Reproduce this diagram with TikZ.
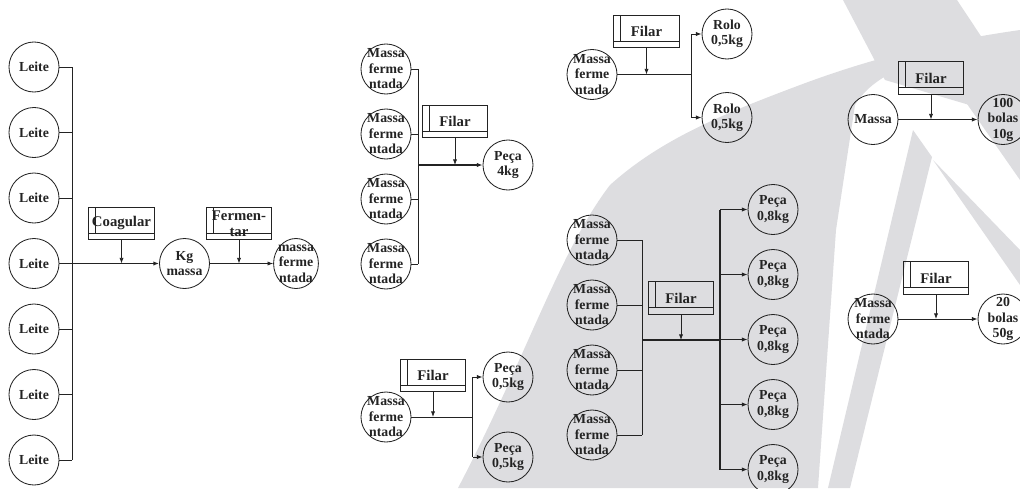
\documentclass[tikz,border=0pt]{standalone}
\usepackage{fontspec}
\setmainfont{Liberation Serif}
\usepackage{tikz}
\usetikzlibrary{arrows.meta, positioning, calc, shapes.geometric}
\definecolor{mydark}{RGB}{35,35,35}
\definecolor{mygray}{RGB}{221,221,224}
\tikzset{
  circ/.style={circle, draw=mydark, line width=0.6pt, minimum size=1.25cm,
    inner sep=-8pt, align=center, font=\fontsize{9.8}{11}\selectfont\bfseries, text=mydark},
  taskbox/.style={rectangle, draw=mydark, line width=0.6pt, minimum width=1.63cm,
    minimum height=0.81cm, inner sep=0pt, align=center,
    font=\fontsize{10.5}{11}\selectfont\bfseries, text=mydark,
    path picture={
      \draw[mydark, line width=0.6pt] ([xshift=0.17cm]path picture bounding box.north west)
        -- ([xshift=0.17cm, yshift=0.16cm]path picture bounding box.south west);
      \draw[mydark, line width=0.6pt] ([yshift=0.16cm]path picture bounding box.south west)
        -- ([yshift=0.16cm]path picture bounding box.south east);
    }},
  arrow/.style={-{Latex[length=4pt, width=3pt]}, line width=0.6pt, color=mydark},
  line/.style={line width=0.6pt, color=mydark},
  thickline/.style={line width=1.3pt, color=mydark},
  wm/.style={fill=mygray, draw=none}
}

\begin{document}
\begin{tikzpicture}[x=0.025cm, y=-0.025cm]
  \useasboundingbox (0,0) rectangle (1020,488);
  \clip (0,0) rectangle (1020,488);

  % Background marks
  \fill[wm] (458,488) .. controls (525,360) and (560,250) .. (610,185)
    .. controls (660,140) and (720,115) .. (800,85)
    .. controls (880,55) and (950,40) .. (1020,30) -- (1020,180) -- (935,58)
    .. controls (900,66) and (870,80) .. (855,105) -- (836,230) -- (818,488) -- cycle;
  \fill[wm] (843,0) -- (957,0) -- (1020,95) -- (1020,120) -- (885,80) -- cycle;
  \fill[wm] (913,130) -- (932,157) -- (850,488) -- (828,488) -- cycle;
  \fill[wm] (933,160) -- (1020,250) -- (1020,285) -- cycle;

  % Leite -> Kg massa -> massa fermentada
  \foreach \i in {1,...,7}
    \node[circ] (l\i) at (34, {67+65.5*(\i-1)}) {Leite};
  \coordinate (busA) at (72,0);
  \foreach \i in {1,...,7}
    \draw[line] (l\i.east) -- (l\i.east -| busA);
  \draw[line] (l1.east -| busA) -- (l7.east -| busA);
  \node[circ] (km) at (184.5,263.5) {Kg\\massa};
  \node[circ, ellipse, minimum width=1.12cm, minimum height=1.25cm] (mf) at (296,263.5) {massa\\ferme\\ntada};
  \node[taskbox] (coag) at (121.5,223.5) {Coagular};
  \node[taskbox] (ferm) at (239,223.5) {Fermen-\\tar};
  \draw[arrow, thickline] (l4.east -| busA) -- (km.west);
  \draw[arrow] (coag.south) -- (coag.south |- km.west);
  \draw[arrow] (km.east) -- (mf.west);
  \draw[arrow] (ferm.south) -- (ferm.south |- km.east);

  % Four masses -> Peca 4kg
  \foreach \i in {1,...,4}
    \node[circ] (m\i) at (386, {69+65*(\i-1)}) {Massa\\ferme\\ntada};
  \coordinate (busB) at (418,0);
  \foreach \i in {1,...,4}
    \draw[line] (m\i.east) -- (m\i.east -| busB);
  \draw[line] (m1.east -| busB) -- (m4.east -| busB);
  \node[circ] (p4) at (508,165) {Peça\\4kg};
  \node[taskbox] (f2) at (455,121.5) {Filar};
  \draw[arrow, line width=0.8pt] (busB |- p4.west) -- (p4.west);
  \draw[arrow] (f2.south) -- (f2.south |- p4.west);

  % One mass -> two Peca 0,5kg
  \node[circ] (s0) at (386,417) {Massa\\ferme\\ntada};
  \node[circ] (pa) at (508,377) {Peça\\0,5kg};
  \node[circ] (pb) at (508,457) {Peça\\0,5kg};
  \coordinate (splitC) at (472.7,0);
  \node[taskbox] (f3) at (433,375.5) {Filar};
  \draw[line] (s0.east) -- (s0.east -| splitC);
  \draw[line] (pa.west -| splitC) -- (pb.west -| splitC);
  \draw[arrow] (pa.west -| splitC) -- (pa.west);
  \draw[arrow] (pb.west -| splitC) -- (pb.west);
  \draw[arrow] (f3.south) -- (f3.south |- s0.east);

  % One mass -> two Rolo 0,5kg
  \node[circ] (r0) at (592,74.5) {Massa\\ferme\\ntada};
  \node[circ] (ra) at (727,34) {Rolo\\0,5kg};
  \node[circ] (rb) at (727,117.5) {Rolo\\0,5kg};
  \coordinate (splitD) at (691,0);
  \node[taskbox] (f4) at (646.5,31.7) {Filar};
  \draw[line] (r0.east) -- (r0.east -| splitD);
  \draw[line] (ra.west -| splitD) -- (rb.west -| splitD);
  \draw[arrow] (ra.west -| splitD) -- (ra.west);
  \draw[arrow] (rb.west -| splitD) -- (rb.west);
  \draw[arrow] (f4.south) -- (f4.south |- r0.east);

  % Four masses -> five Peca 0,8kg
  \foreach \i in {1,...,4}
    \node[circ] (n\i) at (592, {240+65*(\i-1)}) {Massa\\ferme\\ntada};
  \foreach \i in {1,...,5}
    \node[circ] (q\i) at (773, {209.5+65*(\i-1)}) {Peça\\0,8kg};
  \coordinate (busE) at (642,0);
  \coordinate (splitE) at (720,0);
  \coordinate (mainE) at (0,340);
  \foreach \i in {1,...,4}
    \draw[line] (n\i.east) -- (n\i.east -| busE);
  \draw[line] (n1.east -| busE) -- (n4.east -| busE);
  \draw[thickline] (busE |- mainE) -- (splitE |- mainE);
  \draw[thickline] (q1.west -| splitE) -- (q5.west -| splitE);
  \foreach \i in {1,...,5}
    \draw[arrow] (q\i.west -| splitE) -- (q\i.west);
  \node[taskbox] (f5) at (681,298) {Filar};
  \draw[arrow] (f5.south) -- (f5.south |- mainE);

  % Massa -> 100 bolas
  \node[circ] (ma) at (873,119.5) {Massa};
  \node[circ] (bb) at (1003,119.5) {100\\bolas\\10g};
  \node[taskbox] (f6) at (931,78) {Filar};
  \draw[arrow] (ma.east) -- (bb.west);
  \draw[arrow] (f6.south) -- (f6.south |- ma.east);

  % Massa fermentada -> 20 bolas
  \node[circ] (mc) at (873,319) {Massa\\ferme\\ntada};
  \node[circ] (bc) at (1003,319) {20\\bolas\\50g};
  \node[taskbox] (f7) at (936,278) {Filar};
  \draw[arrow] (mc.east) -- (bc.west);
  \draw[arrow] (f7.south) -- (f7.south |- mc.east);
\end{tikzpicture}
\end{document}
